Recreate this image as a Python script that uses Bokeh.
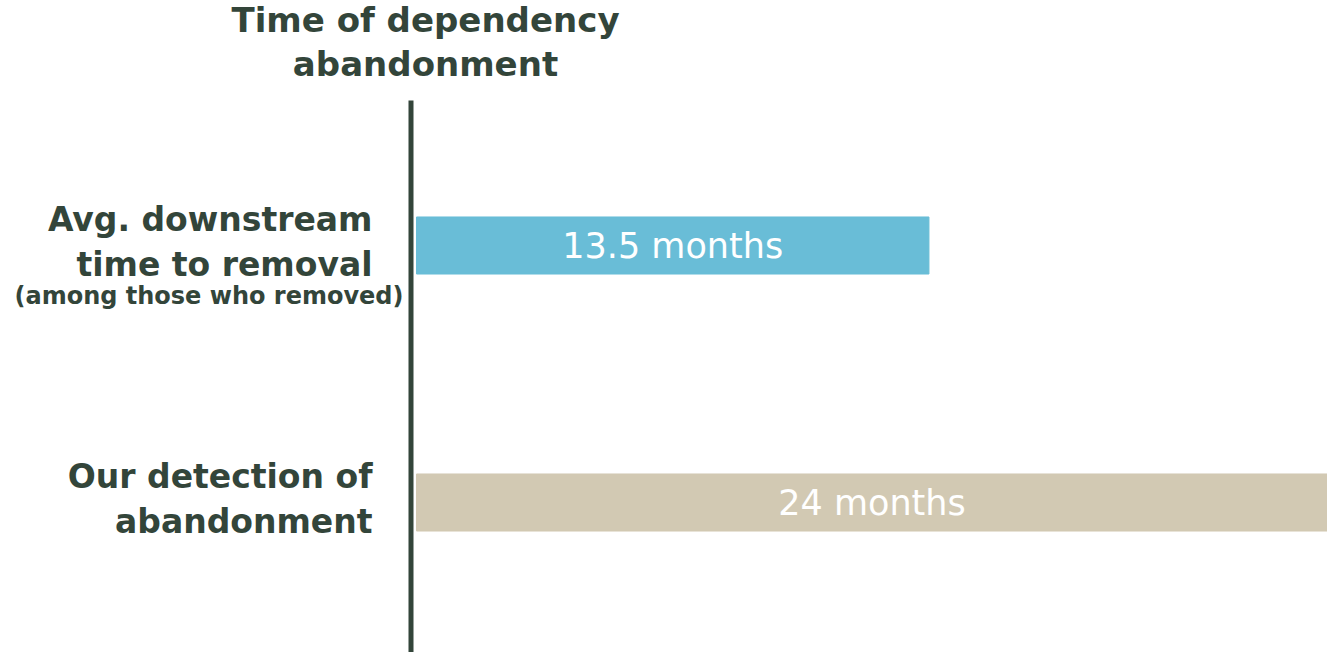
from bokeh.plotting import figure
from bokeh.embed import file_html
from bokeh.resources import INLINE
from bokeh.core.properties import value
from bokeh.models import ColumnDataSource

# ---- data ----
categories = ["Avg. downstream time to removal", "Our detection of abandonment"]
months = [13.5, 24]
bar_colors = ["#69BDD7", "#D2C9B3"]
title_lines = ["Time of dependency", "abandonment"]
label_lines = [["Avg. downstream", "time to removal"], ["Our detection of", "abandonment"]]
sub_label = "(among those who removed)"

DARK = "#33453A"
FONT = value("DejaVu Sans")

W, H = 1327, 652
# horizontal scale: zero at pixel 416, 24 months reaching the right edge
x_zero_px = 416
x_end = max(months)
sx = (W - x_zero_px) / x_end
x_start = -x_zero_px / sx
# vertical: category rows
ypos = [1, 0]
sy = 257.0
y_end = 1 + 245 / sy
y_start = 0 - (H - 502) / sy

p = figure(width=W, height=H, output_backend="svg", toolbar_location=None,
           x_range=(x_start, x_end), y_range=(y_start, y_end),
           min_border=0, min_border_left=0, min_border_right=0,
           min_border_top=0, min_border_bottom=0)
p.axis.visible = False
p.grid.visible = False
p.outline_line_color = None
p.background_fill_color = "white"
p.border_fill_color = "white"

src = ColumnDataSource(dict(y=ypos, right=months, color=bar_colors,
                            mid=[m / 2 for m in months],
                            lab=[f"{m:g} months" for m in months]))
p.hbar(y="y", left=0, right="right", height=0.222, color="color", source=src)

# value labels inside bars
p.text(x="mid", y="y", text="lab", source=src, text_color="white",
       text_font=FONT, text_font_size="35px", text_align="center",
       text_baseline="alphabetic", y_offset=0)

# vertical axis line
axis_x = -5.5 / sx
axis_top = y_end - 100 / sy
p.segment(x0=[axis_x], y0=[axis_top], x1=[axis_x], y1=[y_start - 0.1],
          line_color=DARK, line_width=5)

# title
p.text(x=[0, 0], y=[y_end, y_end], text=title_lines, x_offset=9,
       y_offset=[19, 63], text_align="center", text_baseline="alphabetic",
       text_color=DARK, text_font=FONT, text_font_style="bold",
       text_font_size="34px")

# category labels
for yy, lines in zip(ypos, label_lines):
    p.text(x=[0, 0], y=[yy, yy], text=lines, x_offset=-44,
           y_offset=[-26, 19], text_align="right", text_baseline="alphabetic",
           text_color=DARK, text_font=FONT, text_font_style="bold",
           text_font_size="33px")
p.text(x=[0], y=[ypos[0]], text=[sub_label], x_offset=-13, y_offset=50,
       text_align="right", text_baseline="alphabetic", text_color=DARK,
       text_font=FONT, text_font_style="bold", text_font_size="24px")

open("out.html", "w").write(file_html(p, INLINE))
